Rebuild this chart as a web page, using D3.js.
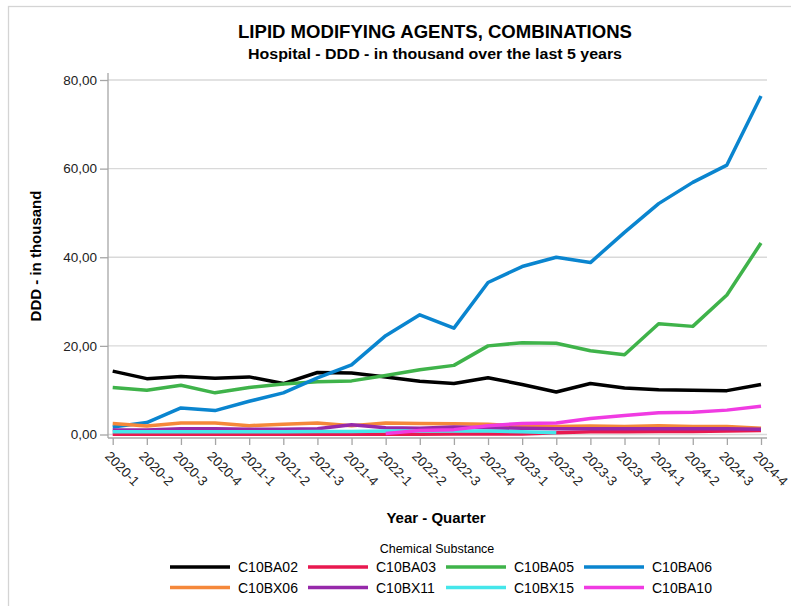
<!DOCTYPE html>
<html>
<head>
<meta charset="utf-8">
<script src="https://cdn.jsdelivr.net/npm/d3@7"></script>
<style>
  body { margin: 0; background: #fff; }
  text { font-family: "Liberation Sans", Arial, sans-serif; }
</style>
</head>
<body>
<svg id="chart" width="791" height="606"></svg>
<script>
// quarters on the x axis
var quarters = ["2020-1","2020-2","2020-3","2020-4","2021-1","2021-2","2021-3","2021-4",
  "2022-1","2022-2","2022-3","2022-4","2023-1","2023-2","2023-3","2023-4",
  "2024-1","2024-2","2024-3","2024-4"];

var yTicks = [0, 20, 40, 60, 80];

// DDD in thousand (null = no value)
var C10BA02 = [14.3,12.6,13.1,12.7,13.0,11.5,14.0,13.9,13.0,12.0,11.5,12.8,11.3,9.6,11.5,10.5,10.1,10.0,9.9,11.3];
var C10BA03 = [0.05,0.05,0.05,0.05,0.05,0.05,0.05,0.05,0.05,0.05,0.1,0.1,0.1,0.4,0.6,0.6,0.7,0.7,0.8,0.9];
var C10BA05 = [10.6,10.0,11.1,9.4,10.6,11.4,11.9,12.1,13.3,14.6,15.6,20.0,20.7,20.6,18.9,18.0,25.0,24.4,31.5,43.2];
var C10BA06 = [1.7,2.7,6.0,5.4,7.5,9.4,12.8,15.7,22.3,27.0,24.0,34.3,37.9,40.0,38.8,45.6,52.1,56.9,60.8,76.4];
var C10BX06 = [2.5,1.9,2.6,2.6,2.0,2.3,2.6,2.0,2.6,2.5,2.4,2.3,1.9,1.8,1.9,1.8,2.0,1.8,1.8,1.4];
var C10BX11 = [1.0,1.0,1.3,1.3,1.2,1.2,1.3,2.2,1.5,1.4,1.7,1.5,1.4,1.3,1.3,1.3,1.3,1.3,1.3,1.2];
var C10BX15 = [0.6,0.6,0.6,0.6,0.6,0.6,0.7,0.7,0.8,0.8,0.8,0.8,0.6,0.4,null,null,null,null,null,null];
var C10BA10 = [null,null,null,null,null,null,null,null,0.2,0.9,1.1,2.0,2.5,2.6,3.6,4.3,4.9,5.0,5.5,6.4];

var series = [
  {name: "C10BA02", values: C10BA02, color: "#000000"},
  {name: "C10BA03", values: C10BA03, color: "#e8194f"},
  {name: "C10BA05", values: C10BA05, color: "#3fb34a"},
  {name: "C10BA06", values: C10BA06, color: "#0a85cf"},
  {name: "C10BX06", values: C10BX06, color: "#f5883a"},
  {name: "C10BX11", values: C10BX11, color: "#9629aa"},
  {name: "C10BX15", values: C10BX15, color: "#44e6ea"},
  {name: "C10BA10", values: C10BA10, color: "#f03be2"}
];

var svg = d3.select("#chart");

// outer frame
svg.append("rect")
  .attr("x", 8.5).attr("y", 6.5)
  .attr("width", 820).attr("height", 700)
  .style("fill", "none").style("stroke", "#d4d4d4").style("stroke-width", 1.3);

var x = d3.scalePoint().domain(quarters).range([112.7, 761]);
var y = d3.scaleLinear().domain([0, 80]).range([434.5, 80]);

// gridlines
svg.append("g")
  .selectAll("line")
  .data(yTicks)
  .enter()
  .append("line")
  .attr("x1", 108).attr("x2", 767)
  .attr("y1", function (d) { return y(d); })
  .attr("y2", function (d) { return y(d); })
  .style("stroke", "#d9d9d9").style("stroke-width", 1.3);

// y axis
var yAxis = svg.append("g")
  .attr("transform", "translate(108,0)")
  .call(d3.axisLeft(y).tickValues(yTicks).tickSize(8).tickPadding(3)
    .tickFormat(function (d) { return d3.format(".2f")(d).replace(".", ","); }));
yAxis.select(".domain").attr("d", "M0,73V438").style("stroke", "#a6a6a6").style("stroke-width", 1.3);
yAxis.selectAll(".tick line").style("stroke", "#a6a6a6").style("stroke-width", 1.3);
yAxis.selectAll(".tick text").style("font-size", "13.5px").style("fill", "#222")
  .style("font-family", "Liberation Sans, Arial, sans-serif");

// x axis
var xAxis = svg.append("g")
  .attr("transform", "translate(0,438)")
  .call(d3.axisBottom(x).tickSize(7).tickSizeOuter(0));
xAxis.select(".domain").attr("d", "M108,0H767").style("stroke", "#a6a6a6").style("stroke-width", 1.3);
xAxis.selectAll(".tick line").style("stroke", "#a6a6a6").style("stroke-width", 1.3);
xAxis.selectAll(".tick text")
  .attr("y", 0).attr("dy", 0)
  .attr("transform", "translate(-9,19) rotate(45)")
  .style("text-anchor", "start")
  .style("font-size", "13.5px").style("fill", "#222")
  .style("font-family", "Liberation Sans, Arial, sans-serif");

// lines
var line = d3.line()
  .defined(function (d) { return d != null; })
  .x(function (d, i) { return x(quarters[i]); })
  .y(function (d) { return y(d); });

svg.append("g")
  .selectAll("path")
  .data(series)
  .enter()
  .append("path")
  .attr("d", function (s) { return line(s.values); })
  .style("fill", "none")
  .style("stroke", function (s) { return s.color; })
  .style("stroke-width", 3.5)
  .style("stroke-linejoin", "round");

// titles
svg.append("text")
  .attr("x", 435).attr("y", 38)
  .attr("text-anchor", "middle")
  .attr("textLength", 394).attr("lengthAdjust", "spacingAndGlyphs")
  .style("font-size", "17.5px").style("font-weight", "bold")
  .text("LIPID MODIFYING AGENTS, COMBINATIONS");

svg.append("text")
  .attr("x", 435).attr("y", 59)
  .attr("text-anchor", "middle")
  .attr("textLength", 374).attr("lengthAdjust", "spacingAndGlyphs")
  .style("font-size", "14px").style("font-weight", "bold")
  .text("Hospital - DDD - in thousand over the last  5 years");

svg.append("text")
  .attr("transform", "translate(41,256) rotate(-90)")
  .attr("text-anchor", "middle")
  .style("font-size", "15px").style("font-weight", "bold")
  .text("DDD - in thousand");

svg.append("text")
  .attr("x", 436).attr("y", 523)
  .attr("text-anchor", "middle")
  .style("font-size", "15px").style("font-weight", "bold")
  .text("Year - Quarter");

// legend
svg.append("text")
  .attr("x", 437).attr("y", 553)
  .attr("text-anchor", "middle")
  .style("font-size", "12.5px")
  .text("Chemical Substance");

var legend = svg.append("g")
  .selectAll("g")
  .data(series)
  .enter()
  .append("g")
  .attr("transform", function (d, i) {
    return "translate(" + (170 + (i % 4) * 138) + "," + (567 + Math.floor(i / 4) * 20.5) + ")";
  });

legend.append("line")
  .attr("x1", 0).attr("x2", 60)
  .style("stroke", function (d) { return d.color; })
  .style("stroke-width", 3.5);

legend.append("text")
  .attr("x", 68).attr("dy", "0.36em")
  .style("font-size", "14px")
  .text(function (d) { return d.name; });
</script>
</body>
</html>
